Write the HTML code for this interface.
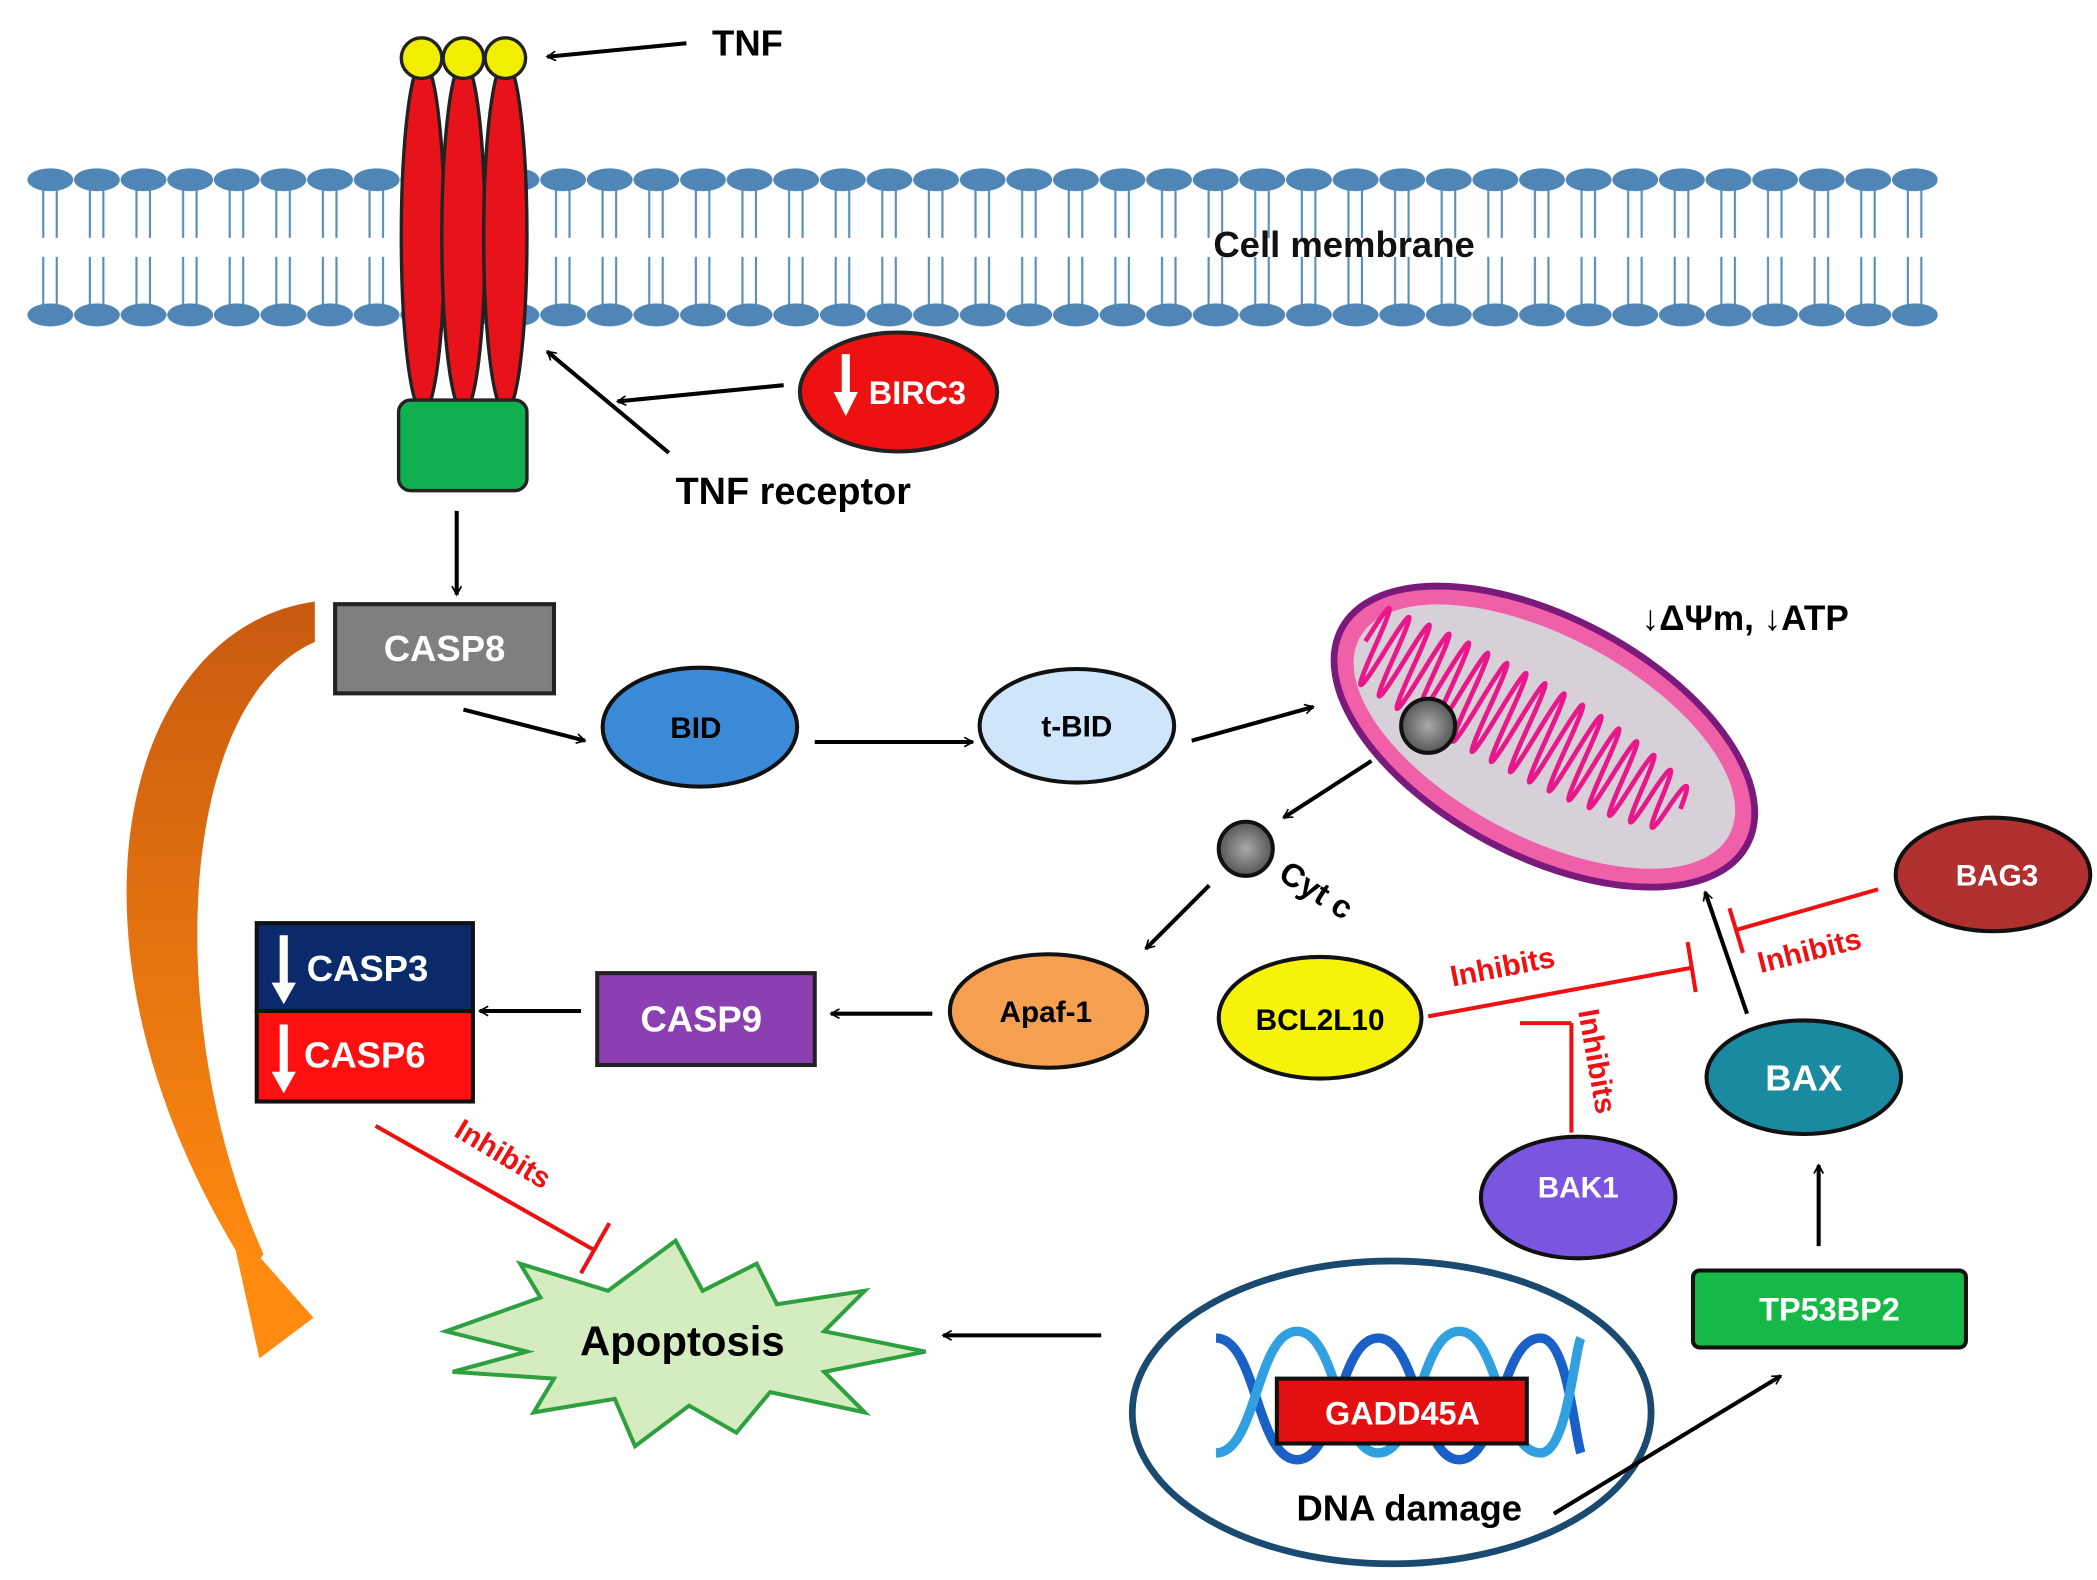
<!DOCTYPE html>
<html><head><meta charset="utf-8"><style>
html,body{margin:0;padding:0;background:#fff;}
svg{display:block;}
text{font-family:"Liberation Sans",Arial,sans-serif;font-weight:bold;}
</style></head><body>
<svg width="2097" height="1580" viewBox="0 0 1552 1169" preserveAspectRatio="none" xmlns="http://www.w3.org/2000/svg">
<defs>
<marker id="ar" viewBox="0 0 20 20" refX="18" refY="10" markerWidth="7" markerHeight="7" orient="auto" markerUnits="userSpaceOnUse" style="overflow:visible">
<path d="M0,0 L18,10 L0,20" fill="none" stroke="#000" stroke-width="3.5"/></marker>
<pattern id="mem" patternUnits="userSpaceOnUse" x="20" y="0" width="34.5" height="260">
<g stroke="#5a8fb8" stroke-width="1.6">
<line x1="12" y1="140" x2="12" y2="176"/><line x1="22" y1="140" x2="22" y2="176"/>
<line x1="12" y1="190" x2="12" y2="226"/><line x1="22" y1="190" x2="22" y2="226"/></g>
<ellipse cx="17.25" cy="133" rx="17" ry="8.5" fill="#4f86b5"/>
<ellipse cx="17.25" cy="233" rx="17" ry="8.5" fill="#4f86b5"/>
</pattern>
<linearGradient id="og" x1="0" y1="0" x2="0" y2="1"><stop offset="0" stop-color="#c85a10"/><stop offset="1" stop-color="#ff8a10"/></linearGradient>
<radialGradient id="gb"><stop offset="0" stop-color="#aaa"/><stop offset="1" stop-color="#555"/></radialGradient>
</defs>
<rect width="1552" height="1169" fill="#fff"/>
<rect x="20" y="120" width="1414" height="125" fill="url(#mem)"/>
<text x="898" y="190" font-size="27" fill="#111">Cell membrane</text>
<g stroke="#222" stroke-width="2.5">
<ellipse cx="313" cy="175" rx="16" ry="130" fill="#e8121a"/>
<ellipse cx="343" cy="175" rx="16" ry="130" fill="#e8121a"/>
<ellipse cx="374" cy="175" rx="16" ry="130" fill="#e8121a"/>
<circle cx="312" cy="43" r="15" fill="#f2ee00"/>
<circle cx="343" cy="43" r="15" fill="#f2ee00"/>
<circle cx="374" cy="43" r="15" fill="#f2ee00"/>
<rect x="295" y="296" width="95" height="67" rx="9" fill="#10b050"/>
</g>
<line x1="508" y1="32" x2="405" y2="42" stroke="#000" stroke-width="3" marker-end="url(#ar)"/>
<text x="527" y="41" font-size="27">TNF</text>
<line x1="580" y1="285" x2="457" y2="297" stroke="#000" stroke-width="3" marker-end="url(#ar)"/>
<line x1="495" y1="335" x2="405" y2="260" stroke="#000" stroke-width="3" marker-end="url(#ar)"/>
<text x="500" y="373" font-size="28">TNF receptor</text>
<ellipse cx="665" cy="290" rx="73" ry="44" fill="#ee1111" stroke="#222" stroke-width="3"/>
<path d="M623,262 v28 h-6 l9,18 l9,-18 h-6 v-28z" fill="#fff"/>
<text x="643" y="299" font-size="24" fill="#fff">BIRC3</text>
<line x1="338" y1="378" x2="338" y2="440" stroke="#000" stroke-width="3" marker-end="url(#ar)"/>
<path d="M233,445 C90,465 30,700 185,942 L195,928 C120,760 130,520 233,475 Z" fill="url(#og)"/>
<path d="M170,905 L232,975 L192,1005 Z" fill="#ff8a10"/>
<rect x="248" y="447" width="162" height="66" fill="#7f7f7f" stroke="#222" stroke-width="3"/>
<text x="329" y="489" font-size="27" fill="#fff" text-anchor="middle">CASP8</text>
<line x1="343" y1="525" x2="433" y2="548" stroke="#000" stroke-width="3" marker-end="url(#ar)"/>
<ellipse cx="518" cy="538" rx="72" ry="44" fill="#3a8ad8" stroke="#111" stroke-width="3"/>
<text x="515" y="546" font-size="22" text-anchor="middle">BID</text>
<line x1="603" y1="549" x2="720" y2="549" stroke="#000" stroke-width="3" marker-end="url(#ar)"/>
<ellipse cx="797" cy="537" rx="72" ry="42" fill="#cfe6fa" stroke="#111" stroke-width="3"/>
<text x="797" y="545" font-size="22" text-anchor="middle">t-BID</text>
<line x1="882" y1="548" x2="972" y2="523" stroke="#000" stroke-width="3" marker-end="url(#ar)"/>
<g transform="translate(1143,545) rotate(28)">
<ellipse cx="0" cy="0" rx="170" ry="88" fill="#f060a8" stroke="#7a1a7a" stroke-width="5"/>
<ellipse cx="0" cy="0" rx="155" ry="74" fill="#d8d0d8"/>
<path d="M-150,0 q4,-60 8,0 q4,60 8,0 q4,-62 8,0 q4,62 8,0 q4,-66 8,0 q4,66 8,0 q4,-68 8,0 q4,68 8,0 q4,-70 8,0 q4,70 8,0 q4,-70 8,0 q4,70 8,0 q4,-70 8,0 q4,70 8,0 q4,-70 8,0 q4,70 8,0 q4,-70 8,0 q4,70 8,0 q4,-70 8,0 q4,70 8,0 q4,-68 8,0 q4,68 8,0 q4,-66 8,0 q4,66 8,0 q4,-62 8,0 q4,62 8,0 q4,-58 8,0 q4,58 8,0 q4,-52 8,0 q4,52 8,0 q4,-44 8,0 q4,44 8,0 q4,-34 8,0" fill="none" stroke="#e8188a" stroke-width="3.5"/>
</g>
<circle cx="1057" cy="537" r="20" fill="url(#gb)" stroke="#111" stroke-width="3"/>
<text x="1215" y="466" font-size="26">↓ΔΨm, ↓ATP</text>
<line x1="1015" y1="563" x2="950" y2="605" stroke="#000" stroke-width="3" marker-end="url(#ar)"/>
<circle cx="922" cy="628" r="20" fill="url(#gb)" stroke="#111" stroke-width="3"/>
<text transform="translate(945,650) rotate(32)" font-size="24">Cyt c</text>
<line x1="895" y1="655" x2="848" y2="702" stroke="#000" stroke-width="3" marker-end="url(#ar)"/>
<ellipse cx="776" cy="748" rx="73" ry="42" fill="#f5a050" stroke="#111" stroke-width="3"/>
<text x="774" y="756" font-size="22" text-anchor="middle">Apaf-1</text>
<line x1="690" y1="750" x2="615" y2="750" stroke="#000" stroke-width="3" marker-end="url(#ar)"/>
<rect x="442" y="720" width="161" height="68" fill="#8b3fb0" stroke="#222" stroke-width="3"/>
<text x="519" y="763" font-size="27" fill="#fff" text-anchor="middle">CASP9</text>
<line x1="430" y1="748" x2="355" y2="748" stroke="#000" stroke-width="3" marker-end="url(#ar)"/>
<rect x="190" y="683" width="160" height="65" fill="#0a2a6b" stroke="#111" stroke-width="3"/>
<rect x="190" y="748" width="160" height="67" fill="#ff1010" stroke="#111" stroke-width="3"/>
<path d="M207,692 v35 h-6 l9,16 l9,-16 h-6 v-35z" fill="#fff"/>
<path d="M207,758 v35 h-6 l9,16 l9,-16 h-6 v-35z" fill="#fff"/>
<text x="227" y="726" font-size="27" fill="#fff">CASP3</text>
<text x="225" y="790" font-size="27" fill="#fff">CASP6</text>
<g stroke="#ee1111" stroke-width="3">
<line x1="278" y1="833" x2="440" y2="925"/><line x1="451" y1="905" x2="430" y2="942"/>
</g>
<text transform="translate(335,840) rotate(31)" font-size="22" fill="#ee1111">Inhibits</text>
<polygon points="330,985 400,960 385,935 450,955 500,918 520,955 560,935 575,965 640,955 610,985 685,1000 610,1015 640,1045 570,1030 545,1060 510,1040 470,1070 455,1035 395,1045 410,1020 335,1015 390,1000" fill="#d4ecc0" stroke="#2ea040" stroke-width="3"/>
<text x="505" y="1003" font-size="31" text-anchor="middle">Apoptosis</text>
<line x1="815" y1="988" x2="698" y2="988" stroke="#000" stroke-width="3" marker-end="url(#ar)"/>
<ellipse cx="1030" cy="1045" rx="192" ry="112" fill="none" stroke="#1a4a70" stroke-width="5"/>
<g fill="none" stroke-width="7">
<path d="M900,990 C930,990 930,1080 960,1080 C990,1080 990,990 1020,990 C1050,990 1050,1080 1080,1080 C1110,1080 1110,990 1140,990 C1160,990 1165,1060 1170,1075" stroke="#1a60c8"/>
<path d="M900,1075 C930,1075 930,985 960,985 C990,985 990,1075 1020,1075 C1050,1075 1050,985 1080,985 C1110,985 1110,1075 1140,1075 C1160,1075 1165,1000 1170,990" stroke="#30a0e0"/>
</g>
<rect x="945" y="1020" width="185" height="48" fill="#e21010" stroke="#111" stroke-width="3"/>
<text x="1038" y="1054" font-size="24" fill="#fff" text-anchor="middle">GADD45A</text>
<text x="1043" y="1125" font-size="27" text-anchor="middle">DNA damage</text>
<line x1="1150" y1="1120" x2="1318" y2="1018" stroke="#000" stroke-width="3" marker-end="url(#ar)"/>
<rect x="1253" y="940" width="202" height="57" rx="5" fill="#16b848" stroke="#111" stroke-width="3"/>
<text x="1354" y="977" font-size="24" fill="#fff" text-anchor="middle">TP53BP2</text>
<line x1="1346" y1="922" x2="1346" y2="862" stroke="#000" stroke-width="3" marker-end="url(#ar)"/>
<ellipse cx="1335" cy="797" rx="72" ry="42" fill="#1a8aa0" stroke="#111" stroke-width="3"/>
<text x="1335" y="807" font-size="27" fill="#fff" text-anchor="middle">BAX</text>
<line x1="1293" y1="750" x2="1262" y2="660" stroke="#000" stroke-width="3" marker-end="url(#ar)"/>
<ellipse cx="1475" cy="647" rx="72" ry="42" fill="#b03030" stroke="#111" stroke-width="3"/>
<text x="1478" y="655" font-size="22" fill="#fff" text-anchor="middle">BAG3</text>
<g stroke="#ee1111" stroke-width="3">
<line x1="1390" y1="658" x2="1285" y2="688"/><line x1="1280" y1="672" x2="1290" y2="705"/>
<line x1="1057" y1="752" x2="1252" y2="716"/><line x1="1249" y1="697" x2="1255" y2="734"/>
<line x1="1163" y1="838" x2="1163" y2="757"/><line x1="1125" y1="757" x2="1163" y2="757"/>
</g>
<text transform="translate(1303,720) rotate(-14)" font-size="22" fill="#ee1111">Inhibits</text>
<text transform="translate(1075,730) rotate(-11)" font-size="22" fill="#ee1111">Inhibits</text>
<text transform="translate(1168,748) rotate(80)" font-size="22" fill="#ee1111">Inhibits</text>
<ellipse cx="977" cy="753" rx="75" ry="45" fill="#f6f20a" stroke="#111" stroke-width="3"/>
<text x="977" y="762" font-size="22" text-anchor="middle">BCL2L10</text>
<ellipse cx="1168" cy="886" rx="72" ry="45" fill="#7a55e0" stroke="#111" stroke-width="3"/>
<text x="1168" y="886" font-size="22" fill="#fff" text-anchor="middle">BAK1</text>
</svg>
</body></html>
